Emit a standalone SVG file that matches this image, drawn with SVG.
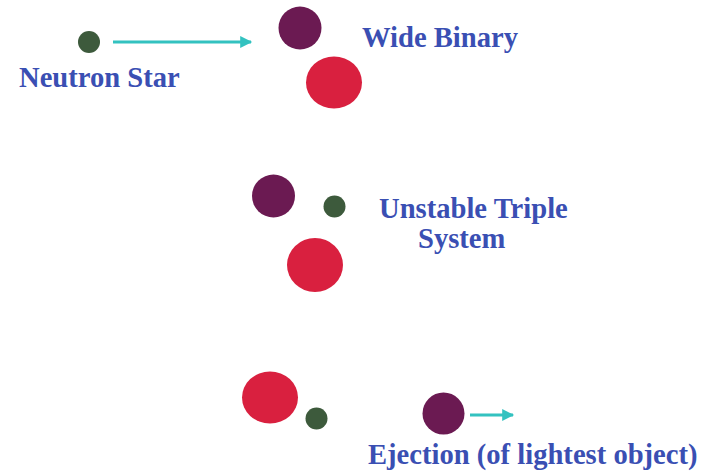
<svg xmlns="http://www.w3.org/2000/svg" width="717" height="475" viewBox="0 0 717 475">
<style>
.lbl{font-family:"Liberation Serif","Times New Roman",serif;font-weight:bold;font-size:28.6px;fill:#3a4fb3}
.ns{fill:#3d5a3c}
.pu{fill:#6b1a52}
.rd{fill:#d9203f}
.arr{stroke:#33c2c0;stroke-width:3;fill:none}
</style>
<defs>
<marker id="ah" viewBox="0 0 10 10" refX="9" refY="5" markerWidth="4.5" markerHeight="4" orient="auto" markerUnits="strokeWidth">
<path d="M0,0 L10,5 L0,10 Z" fill="#33c2c0"/>
</marker>
</defs>
<rect width="717" height="475" fill="#ffffff"/>
<g id="connectors">
<line class="arr" x1="113" y1="42" x2="251" y2="42" marker-end="url(#ah)"/>
<line class="arr" x1="470" y1="415" x2="513" y2="415" marker-end="url(#ah)"/>
</g>
<g id="neutron-star-1"><circle class="ns" cx="89" cy="42" r="11"/></g>
<g id="label-neutron-star"><text class="lbl" x="19" y="87">Neutron Star</text></g>
<g id="purple-1"><circle class="pu" cx="300" cy="28" r="21.5"/></g>
<g id="red-1"><ellipse class="rd" cx="334" cy="82.5" rx="28" ry="26"/></g>
<g id="label-wide-binary"><text class="lbl" x="362" y="47">Wide Binary</text></g>
<g id="purple-2"><circle class="pu" cx="273.5" cy="196" r="21.5"/></g>
<g id="neutron-star-2"><circle class="ns" cx="334.5" cy="206.5" r="11"/></g>
<g id="red-2"><ellipse class="rd" cx="315" cy="265" rx="28" ry="27"/></g>
<g id="label-triple"><text class="lbl" x="379" y="218">Unstable Triple</text><text class="lbl" x="418" y="248">System</text></g>
<g id="red-3"><ellipse class="rd" cx="270" cy="397.5" rx="28" ry="26"/></g>
<g id="neutron-star-3"><circle class="ns" cx="316.5" cy="418.5" r="11"/></g>
<g id="purple-3"><circle class="pu" cx="443.5" cy="413.5" r="21"/></g>
<g id="label-ejection"><text class="lbl" x="368" y="464">Ejection (of lightest object)</text></g>
</svg>
